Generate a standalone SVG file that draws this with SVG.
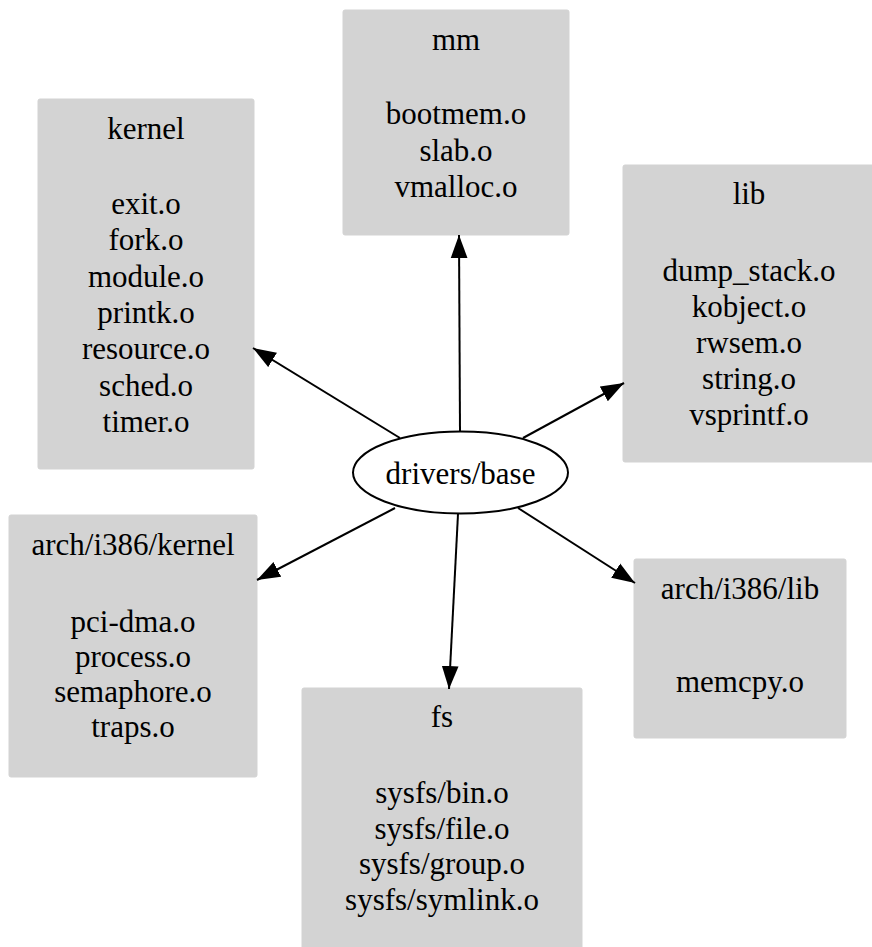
<svg xmlns="http://www.w3.org/2000/svg" width="872" height="947" viewBox="0 0 872 947" font-family="'Liberation Serif', 'Times New Roman', serif">
<style>
.box{fill:#d3d3d3;stroke:#d3d3d3;stroke-width:1}
.t{font-family:'Liberation Serif','Times New Roman',serif;font-size:31px;fill:#000;text-anchor:middle}
.edge{stroke:#000;stroke-width:2;fill:none}
</style>
<defs>
<marker id="ah" markerUnits="userSpaceOnUse" markerWidth="24" markerHeight="18" viewBox="0 0 23 17" refX="22" refY="8.5" orient="auto">
<path d="M0,0.5 L22,8.5 L0,16.5 z" fill="#000"/>
</marker>
</defs>
<rect width="872" height="947" fill="#fff"/>
<g id="node-mm" class="t">
<rect class="box" x="343" y="10" width="226" height="225" rx="2"/>
<text x="456" y="50">mm</text>
<text x="456" y="124">bootmem.o</text>
<text x="456" y="161">slab.o</text>
<text x="456" y="197">vmalloc.o</text>
</g>
<g id="node-kernel" class="t">
<rect class="box" x="38" y="99" width="216" height="370" rx="2"/>
<text x="146" y="139">kernel</text>
<text x="146" y="214">exit.o</text>
<text x="146" y="250">fork.o</text>
<text x="146" y="287">module.o</text>
<text x="146" y="323">printk.o</text>
<text x="146" y="359">resource.o</text>
<text x="146" y="396">sched.o</text>
<text x="146" y="432">timer.o</text>
</g>
<g id="node-lib" class="t">
<rect class="box" x="623" y="165" width="252" height="297" rx="2"/>
<text x="749" y="204">lib</text>
<text x="749" y="281">dump_stack.o</text>
<text x="749" y="317">kobject.o</text>
<text x="749" y="353">rwsem.o</text>
<text x="749" y="389">string.o</text>
<text x="749" y="425">vsprintf.o</text>
</g>
<g id="node-drivers-base" class="t">
<ellipse cx="460.5" cy="472.5" rx="107.5" ry="41" fill="#fff" stroke="#000" stroke-width="2"/>
<text x="460.5" y="484">drivers/base</text>
</g>
<g id="node-arch-i386-kernel" class="t">
<rect class="box" x="9" y="515" width="248" height="262" rx="2"/>
<text x="133" y="555">arch/i386/kernel</text>
<text x="133" y="632">pci-dma.o</text>
<text x="133" y="667">process.o</text>
<text x="133" y="702">semaphore.o</text>
<text x="133" y="737">traps.o</text>
</g>
<g id="node-arch-i386-lib" class="t">
<rect class="box" x="634" y="559" width="212" height="179" rx="2"/>
<text x="740" y="599">arch/i386/lib</text>
<text x="740" y="692">memcpy.o</text>
</g>
<g id="node-fs" class="t">
<rect class="box" x="302" y="688" width="280" height="270" rx="2"/>
<text x="442" y="727">fs</text>
<text x="442" y="803">sysfs/bin.o</text>
<text x="442" y="839">sysfs/file.o</text>
<text x="442" y="874">sysfs/group.o</text>
<text x="442" y="910">sysfs/symlink.o</text>
</g>
<g id="edges">
<path class="edge" d="M460,432 L459,235" marker-end="url(#ah)"/>
<path class="edge" d="M400,438 L253,348" marker-end="url(#ah)"/>
<path class="edge" d="M523,438 L624,383" marker-end="url(#ah)"/>
<path class="edge" d="M395,508 L257,580" marker-end="url(#ah)"/>
<path class="edge" d="M518,508 L635,583" marker-end="url(#ah)"/>
<path class="edge" d="M458,514 L449,689" marker-end="url(#ah)"/>
</g>
</svg>
